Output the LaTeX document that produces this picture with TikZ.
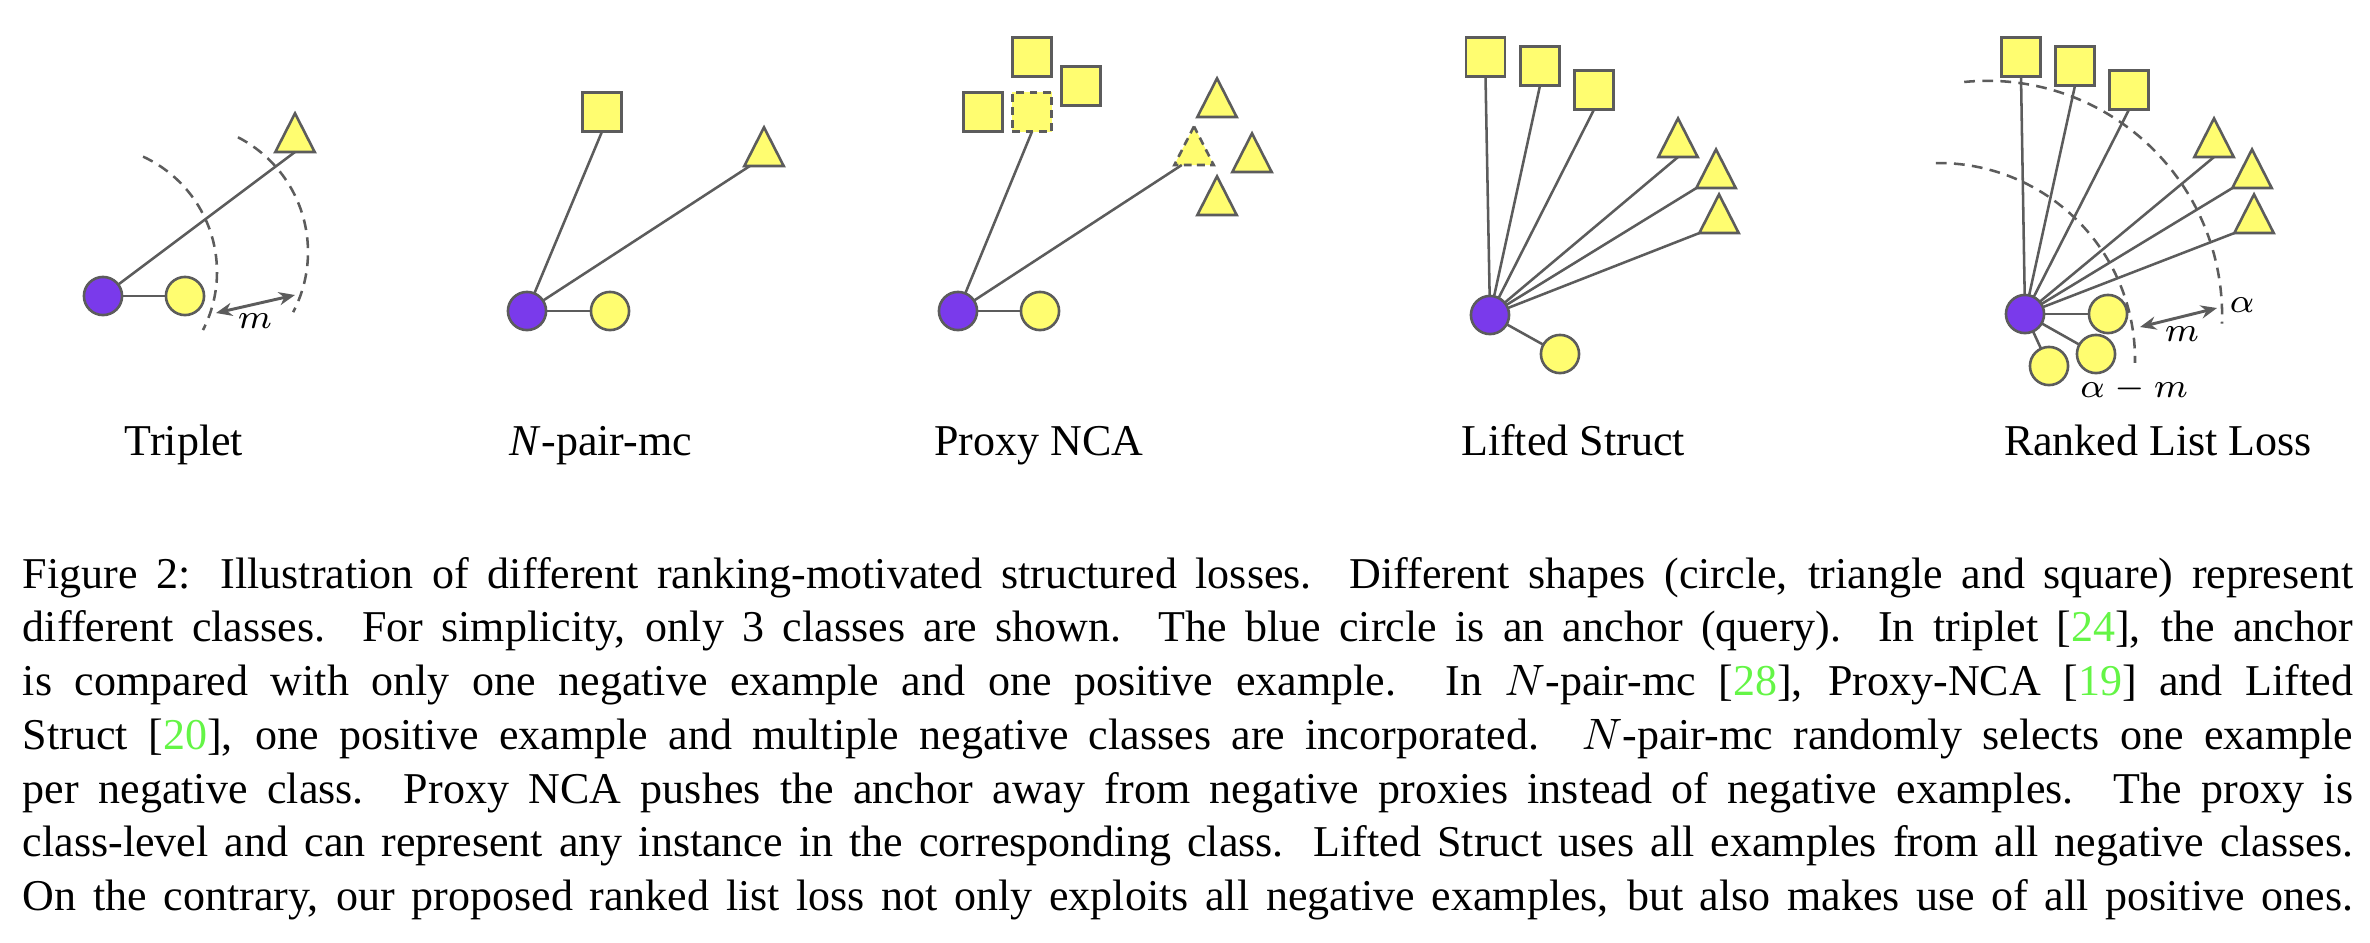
\documentclass[tikz,border=0pt]{standalone}
\usepackage{fontspec}
\setmainfont{Liberation Serif}
\usetikzlibrary{shapes.geometric,arrows.meta,calc}
\definecolor{anc}{RGB}{122,58,235}
\definecolor{yel}{RGB}{255,253,112}
\definecolor{edge}{RGB}{92,92,92}
\definecolor{citegreen}{RGB}{100,245,70}
\newcommand{\cit}[1]{[\textcolor{citegreen}{#1}]}
\begin{document}
\begin{tikzpicture}[x=0.2045pt, y=-0.2045pt,
  shapebase/.style={draw=edge, line width=0.53pt, inner sep=0pt, outer sep=0pt},
  anchornode/.style={shapebase, circle, fill=anc, minimum size=7.8pt},
  posnode/.style={shapebase, circle, fill=yel, minimum size=7.8pt},
  sqnode/.style={shapebase, rectangle, fill=yel, minimum size=8pt},
  trinode/.style={shapebase, isosceles triangle, isosceles triangle apex angle=54,
     shape border rotate=90, fill=yel, minimum width=7.9pt, minimum height=7.9pt, anchor=south},
  proxydash/.style={dash pattern=on 1.6pt off 1.1pt},
  link/.style={draw=edge, line width=0.52pt},
  arcline/.style={draw=edge, line width=0.52pt, dash pattern=on 2.2pt off 1.5pt},
  marg/.style={draw=edge, line width=0.6pt,
     {Stealth[length=3.3pt,width=2.7pt]}-{Stealth[length=3.3pt,width=2.7pt]}},
  lab/.style={font=\fontsize{9}{11}\selectfont, inner sep=0pt, anchor=base},
  mlab/.style={font=\fontsize{7.4}{9}\selectfont, inner sep=0pt}
]
\path[use as bounding box] (0,0) rectangle (2370,942);

% ---------- Triplet ----------
\node[anchornode] (a1) at (103,296) {};
\node[posnode] (p1) at (185,296) {};
\node[trinode] (t1) at (295,152) {};
\draw[link] (a1) -- (p1);
\draw[link] (a1) -- (t1.south);
\draw[arcline] plot[domain=-65.3:27.2, samples=60, smooth] ({90+127*cos(\x)}, {272+127*sin(\x)});
\draw[arcline] plot[domain=-62.8:27.8, samples=60, smooth] ({179+129*cos(\x)}, {252+129*sin(\x)});
\coordinate (m1a) at (216,313);
\coordinate (m1b) at (295,295);
\draw[marg] (m1a) -- (m1b);
\node[mlab] (m1) at (255,321) {$m$};
\node[lab] (l1) at (184,455) {Triplet};

% ---------- N-pair-mc ----------
\node[anchornode] (a2) at (527,311) {};
\node[posnode] (p2) at (610,311) {};
\node[sqnode] (s2) at (602,112) {};
\node[trinode] (t2) at (764,166) {};
\draw[link] (a2) -- (p2);
\draw[link] (a2) -- (s2.south);
\draw[link] (a2) -- ([xshift=-2.9pt]t2.south);
\node[lab] (l2) at (601,455) {\textit{N}-pair-mc};

% ---------- Proxy NCA ----------
\node[anchornode] (a3) at (958,311) {};
\node[posnode] (p3) at (1040,311) {};
\node[sqnode] (q3a) at (1032,57) {};
\node[sqnode] (q3b) at (1081,86) {};
\node[sqnode] (q3c) at (983,112) {};
\node[sqnode, proxydash] (q3d) at (1032,112) {};
\node[trinode] (u3a) at (1217,117) {};
\node[trinode, proxydash] (u3b) at (1194,165) {};
\node[trinode] (u3c) at (1252,172) {};
\node[trinode] (u3d) at (1217,215) {};
\draw[link] (a3) -- (p3);
\draw[link] (a3) -- (q3d.south);
\draw[link] (a3) -- ([xshift=-2.5pt]u3b.south);
\node[lab] (l3) at (1039,455) {Proxy NCA};

% ---------- Lifted Struct ----------
\node[anchornode] (a4) at (1490,315) {};
\node[posnode] (p4) at (1560,354) {};
\node[sqnode] (s4a) at (1485.5,57) {};
\node[sqnode] (s4b) at (1540,66) {};
\node[sqnode] (s4c) at (1594,90) {};
\node[trinode] (t4a) at (1678,157) {};
\node[trinode] (t4b) at (1716,188) {};
\node[trinode] (t4c) at (1719,233) {};
\draw[link] (a4) -- (p4);
\draw[link] (a4) -- (s4a.south);
\draw[link] (a4) -- (s4b.south);
\draw[link] (a4) -- (s4c.south);
\draw[link] (a4) -- (t4a.south);
\draw[link] (a4) -- ([xshift=-4pt]t4b.south);
\draw[link] (a4) -- ([xshift=-4pt]t4c.south);
\node[lab] (l4) at (1573,455) {Lifted Struct};

% ---------- Ranked List Loss ----------
\draw[arcline] plot[domain=-95.7:2, samples=80, smooth] ({1987.5+234.6*cos(\x)}, {315.4+234.6*sin(\x)});
\draw[arcline] plot[domain=-90.8:1, samples=80, smooth] ({1938.6+196.4*cos(\x)}, {359.4+196.4*sin(\x)});
\node[anchornode] (a5) at (2025,314) {};
\node[posnode] (p5a) at (2108,314) {};
\node[posnode] (p5b) at (2096,354) {};
\node[posnode] (p5c) at (2049,366) {};
\node[sqnode] (s5a) at (2021,57) {};
\node[sqnode] (s5b) at (2075,66) {};
\node[sqnode] (s5c) at (2129,90) {};
\node[trinode] (t5a) at (2214,157) {};
\node[trinode] (t5b) at (2252,188) {};
\node[trinode] (t5c) at (2254,233) {};
\draw[link] (a5) -- (p5a);
\draw[link] (a5) -- (p5b);
\draw[link] (a5) -- (p5c);
\draw[link] (a5) -- (s5a.south);
\draw[link] (a5) -- (s5b.south);
\draw[link] (a5) -- (s5c.south);
\draw[link] (a5) -- (t5a.south);
\draw[link] (a5) -- ([xshift=-4pt]t5b.south);
\draw[link] (a5) -- ([xshift=-4pt]t5c.south);
\coordinate (m5a) at (2140,327);
\coordinate (m5b) at (2217,308);
\draw[marg] (m5a) -- (m5b);
\node[mlab] (m5) at (2182,334) {$m$};
\node[mlab] (al5) at (2242,305) {$\alpha$};
\node[mlab] (am5) at (2134,389) {$\alpha-m$};
\node[lab] (l5) at (2158,455) {Ranked List Loss};

% ---------- Caption ----------
\node[anchor=base west, inner sep=0pt, text width=476.5pt, align=justify,
      font=\fontsize{9}{11}\selectfont] (cap) at (22,588) {\parfillskip=0pt
Figure 2: Illustration of different ranking-motivated structured losses. Different shapes (circle, triangle and square) represent\linebreak
different classes.  For simplicity, only 3 classes are shown.  The blue circle is an anchor (query).  In triplet \cit{24}, the anchor\linebreak
is compared with only one negative example and one positive example.  In $N$-pair-mc \cit{28}, Proxy-NCA \cit{19} and Lifted\linebreak
Struct \cit{20}, one positive example and multiple negative classes are incorporated.  $N$-pair-mc randomly selects one example\linebreak
per negative class.  Proxy NCA pushes the anchor away from negative proxies instead of negative examples.  The proxy is\linebreak
class-level and can represent any instance in the corresponding class. Lifted Struct uses all examples from all negative classes.\linebreak
On the contrary, our proposed ranked list loss not only exploits all negative examples, but also makes use of all positive ones.\par};
\end{tikzpicture}
\end{document}
